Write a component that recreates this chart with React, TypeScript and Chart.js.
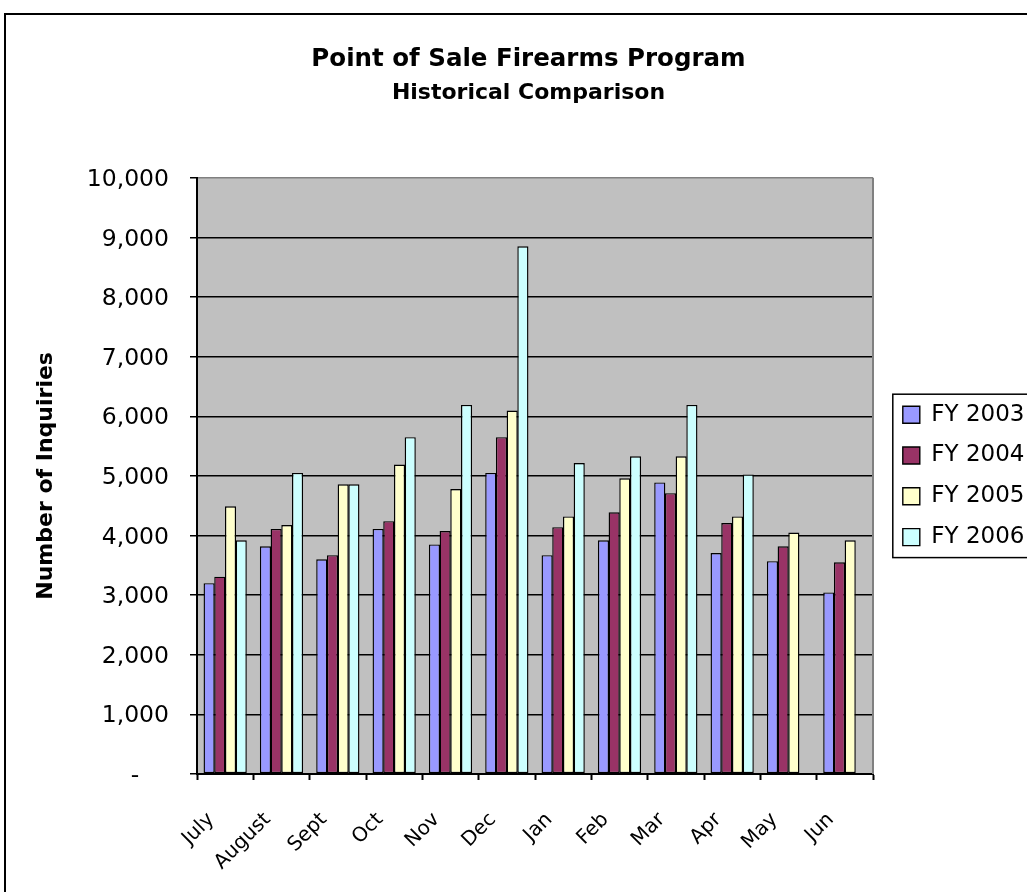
import React, { useEffect, useRef } from 'react';
import { Chart, registerables } from 'chart.js';

Chart.register(...registerables);

// Monthly point-of-sale firearm inquiries, fiscal years run July to June
const months = ['July', 'August', 'Sept', 'Oct', 'Nov', 'Dec', 'Jan', 'Feb', 'Mar', 'Apr', 'May', 'Jun'];
const fy2003 = [3200, 3820, 3600, 4110, 3850, 5050, 3670, 3920, 4890, 3705, 3570, 3045];
const fy2004 = [3310, 4110, 3670, 4240, 4075, 5650, 4140, 4390, 4710, 4210, 3820, 3550];
const fy2005 = [4490, 4175, 4860, 5190, 4780, 6095, 4320, 4960, 5330, 4320, 4050, 3920];
const fy2006 = [3920, 5050, 4860, 5650, 6190, 8850, 5215, 5330, 6190, 5025, null, null];

const seriesNames = ['FY 2003', 'FY 2004', 'FY 2005', 'FY 2006'];
const seriesColors = ['#9999FF', '#993366', '#FFFFCC', '#CCFFFF'];

const yMin = 0;
const yMax = 10000;
const yStep = 1000;

const FONT = "'DejaVu Sans', 'Liberation Sans', Arial, sans-serif";

// Grey plot background, plot/legend frames and the outer chart border
const framePlugin = {
  id: 'frame',
  beforeDraw(chart: any) {
    const { ctx, chartArea: a, width, height } = chart;
    ctx.save();
    ctx.fillStyle = '#FFFFFF';
    ctx.fillRect(0, 0, width, height);
    ctx.fillStyle = '#C0C0C0';
    ctx.fillRect(a.left, a.top, a.right - a.left, a.bottom - a.top);
    ctx.restore();
  },
  afterDraw(chart: any) {
    const { ctx, chartArea: a, width, height } = chart;
    ctx.save();
    ctx.strokeStyle = '#808080';
    ctx.lineWidth = 2;
    ctx.beginPath();
    ctx.moveTo(a.right, a.top);
    ctx.lineTo(a.right, a.bottom);
    ctx.stroke();

    const boxes = chart.legend && chart.legend.legendHitBoxes;
    if (boxes && boxes.length) {
      const first = boxes[0];
      const last = boxes[boxes.length - 1];
      const x = first.left - 10;
      const y = first.top - 9;
      const y2 = last.top + last.height + 9;
      ctx.strokeStyle = '#000000';
      ctx.lineWidth = 1.5;
      ctx.strokeRect(x, y, width + 20 - x, y2 - y);
    }

    ctx.strokeStyle = '#000000';
    ctx.lineWidth = 2;
    ctx.strokeRect(5, 14, width + 20, height + 20);
    ctx.restore();
  },
};

export default function App() {
  const canvasRef = useRef<HTMLCanvasElement | null>(null);

  useEffect(() => {
    if (!canvasRef.current) return;
    const series = [fy2003, fy2004, fy2005, fy2006];
    const chart = new Chart(canvasRef.current, {
      type: 'bar',
      data: {
        labels: months,
        datasets: series.map((values, i) => ({
          label: seriesNames[i],
          data: values,
          backgroundColor: seriesColors[i],
          borderColor: '#000000',
          borderWidth: 1.4,
          borderSkipped: false,
          barPercentage: 1.04,
          categoryPercentage: 0.76,
          xAxisID: 'x',
          yAxisID: 'y',
        })),
      },
      options: {
        responsive: false,
        animation: false,
        events: [],
        devicePixelRatio: 1,
        layout: { padding: { left: 30, right: 0, top: 0, bottom: 0 } },
        plugins: {
          title: {
            display: true,
            text: 'Point of Sale Firearms Program',
            color: '#000000',
            font: { family: FONT, size: 24.5, weight: 'bold' },
            padding: { top: 45, bottom: 0 },
          },
          subtitle: {
            display: true,
            text: 'Historical Comparison',
            color: '#000000',
            font: { family: FONT, size: 22, weight: 'bold' },
            padding: { top: 6, bottom: 71 },
          },
          legend: {
            position: 'right',
            align: 'center',
            fullSize: false,
            maxWidth: 142,
            labels: {
              boxWidth: 17,
              boxHeight: 17,
              padding: 17.8,
              color: '#000000',
              font: { family: FONT, size: 23 },
            },
          },
          tooltip: { enabled: false },
        },
        scales: {
          x: {
            offset: true,
            ticks: {
              autoSkip: false,
              minRotation: 45,
              maxRotation: 45,
              padding: 28,
              labelOffset: -14,
              color: '#000000',
              font: { family: FONT, size: 20 },
            },
            grid: {
              display: true,
              drawOnChartArea: false,
              drawTicks: true,
              offset: true,
              tickLength: 6,
              tickWidth: 2,
              tickColor: '#000000',
              color: '#000000',
            },
            border: { display: true, color: '#000000', width: 2 },
            afterFit: (s: any) => {
              s.height = 118;
            },
          },
          y: {
            min: yMin,
            max: yMax,
            ticks: {
              stepSize: yStep,
              padding: 21,
              labelOffset: 2,
              color: '#000000',
              font: { family: FONT, size: 23.5 },
              callback: (v: any) => (Number(v) === 0 ? '-    ' : Number(v).toLocaleString('en-US')),
            },
            grid: {
              color: (c: any) => (c.tick && c.tick.value === yMax ? '#808080' : '#000000'),
              lineWidth: 1.5,
              tickLength: 7,
              tickWidth: 1.5,
              tickColor: '#000000',
            },
            border: { display: true, color: '#000000', width: 2 },
            title: {
              display: true,
              text: 'Number of Inquiries',
              color: '#000000',
              font: { family: FONT, size: 22, weight: 'bold' },
              padding: { top: 3, bottom: 0 },
            },
            afterFit: (s: any) => {
              s.width = 167;
            },
          },
          gap: {
            type: 'linear',
            position: 'right',
            display: true,
            grid: { display: false, drawTicks: false },
            border: { display: false },
            ticks: { display: false },
            afterFit: (s: any) => {
              s.width = 12;
            },
          },
        },
      },
      plugins: [framePlugin],
    } as any);
    return () => chart.destroy();
  }, []);

  return (
    <div style={{ position: 'absolute', left: 0, top: 0, width: 1027, height: 892, background: '#FFFFFF' }}>
      <canvas ref={canvasRef} width={1027} height={892} style={{ display: 'block' }} />
    </div>
  );
}
